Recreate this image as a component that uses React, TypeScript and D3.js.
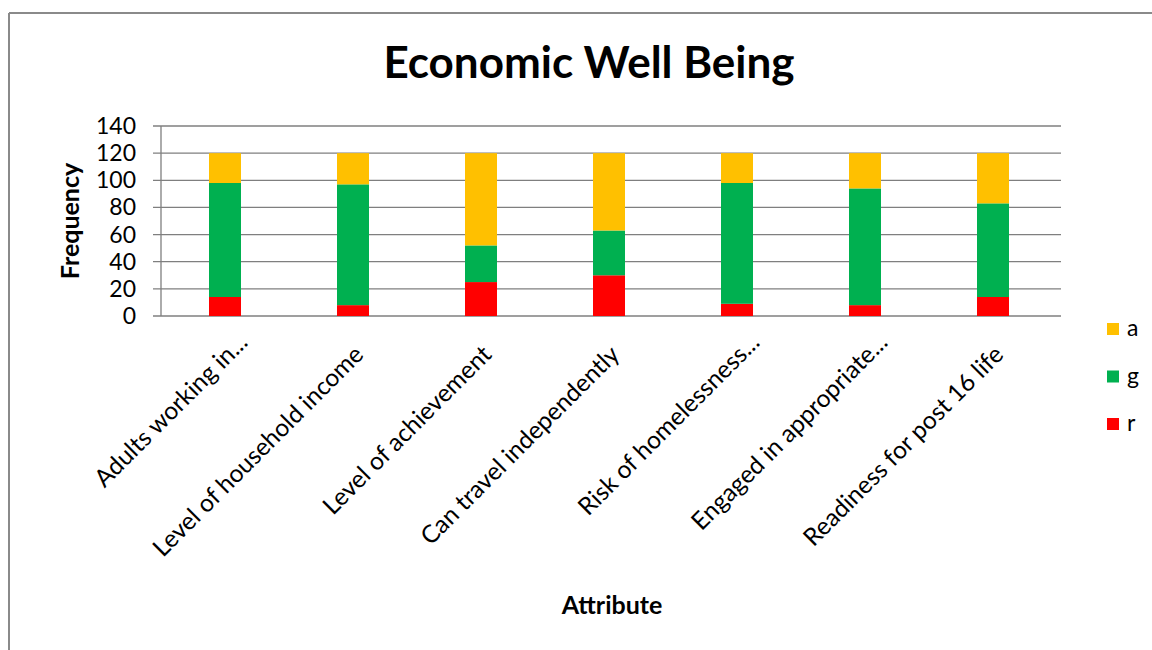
import React from "react";
import * as d3 from "d3";

const categories = [
  "Adults working in...",
  "Level of household income",
  "Level of achievement",
  "Can travel independently",
  "Risk of homelessness...",
  "Engaged in appropriate...",
  "Readiness for post 16 life",
];
const rValues = [14, 8, 25, 30, 9, 8, 14];
const gValues = [84, 89, 27, 33, 89, 86, 69];
const aValues = [22, 23, 68, 57, 22, 26, 37];
const yTicks = [0, 20, 40, 60, 80, 100, 120, 140];
const seriesKeys = ["r", "g", "a"];
const seriesColors: Record<string, string> = { r: "#FF0000", g: "#00B050", a: "#FFC000" };
const legendOrder = ["a", "g", "r"];

const FONT = "Lato, 'Open Sans', sans-serif";

export default function App() {
  const W = 1152, H = 650;
  const left = 161, right = 1057, top = 126, bottom = 316;
  const x = d3.scaleBand<string>().domain(categories).range([left, right]).paddingInner(0.75).paddingOuter(0.375);
  const y = d3.scaleLinear().domain([0, 140]).range([bottom, top]);

  const rows = categories.map((c, i) => ({ cat: c, r: rValues[i], g: gValues[i], a: aValues[i] }));
  const stacked = d3.stack<any>().keys(seriesKeys)(rows);

  return (
    <div style={{ position: "absolute", left: 0, top: 0 }}>
      <svg width={W} height={H} style={{ display: "block", background: "#fff" }}>
        <rect x={0} y={0} width={W} height={H} fill="#fff" />
        {/* chart border (only top and left visible) */}
        <line x1={9} y1={13} x2={W} y2={13} stroke="#8a8a8a" strokeWidth={2} />
        <line x1={9} y1={13} x2={9} y2={H} stroke="#8a8a8a" strokeWidth={2} />

        <text x={589} y={78} textAnchor="middle" fontFamily={FONT} fontWeight="bold" fontSize={44} fill="#000">
          Economic Well Being
        </text>

        {/* gridlines */}
        {yTicks.map((t) => (
          <g key={t}>
            <line x1={left - 8} x2={right + 4} y1={y(t)} y2={y(t)} stroke="#7f7f7f" strokeWidth={1.3} />
            <text x={136} y={y(t)} dy="0.35em" textAnchor="end" fontFamily={FONT} fontSize={23} fill="#000">
              {t}
            </text>
          </g>
        ))}
        <line x1={left} x2={left} y1={top} y2={bottom} stroke="#7f7f7f" strokeWidth={1.3} />

        {/* bars */}
        {stacked.map((s) => (
          <g key={s.key} fill={seriesColors[s.key]}>
            {s.map((d, i) => (
              <rect
                key={i}
                x={x(categories[i])}
                width={x.bandwidth()}
                y={y(d[1])}
                height={y(d[0]) - y(d[1])}
              />
            ))}
          </g>
        ))}

        {/* x labels */}
        {categories.map((c) => {
          const cx = (x(c) as number) + x.bandwidth() / 2;
          const ell = c.endsWith("...");
          const ex = cx + (ell ? 24 : 12);
          const ey = ell ? 344 : 356;
          return (
            <text
              key={c}
              x={ex}
              y={ey}
              textAnchor="end"
              transform={`rotate(-45, ${ex}, ${ey})`}
              fontFamily={FONT}
              fontSize={24.5}
              fill="#000"
            >
              {c}
            </text>
          );
        })}

        <text
          x={0}
          y={0}
          transform={`translate(70, 221) rotate(-90)`}
          textAnchor="middle"
          dy="0.35em"
          fontFamily={FONT}
          fontWeight="bold"
          fontSize={25}
          fill="#000"
        >
          Frequency
        </text>
        <text x={612} y={614} textAnchor="middle" fontFamily={FONT} fontWeight="bold" fontSize={25} fill="#000">
          Attribute
        </text>

        {/* legend */}
        {legendOrder.map((k, i) => {
          const ly = 329 + i * 47.5;
          return (
            <g key={k}>
              <rect x={1107} y={ly - 6} width={12} height={12} fill={seriesColors[k]} />
              <text x={1127} y={ly} dy="0.32em" fontFamily={FONT} fontSize={23} fill="#000">
                {k}
              </text>
            </g>
          );
        })}
      </svg>
    </div>
  );
}
